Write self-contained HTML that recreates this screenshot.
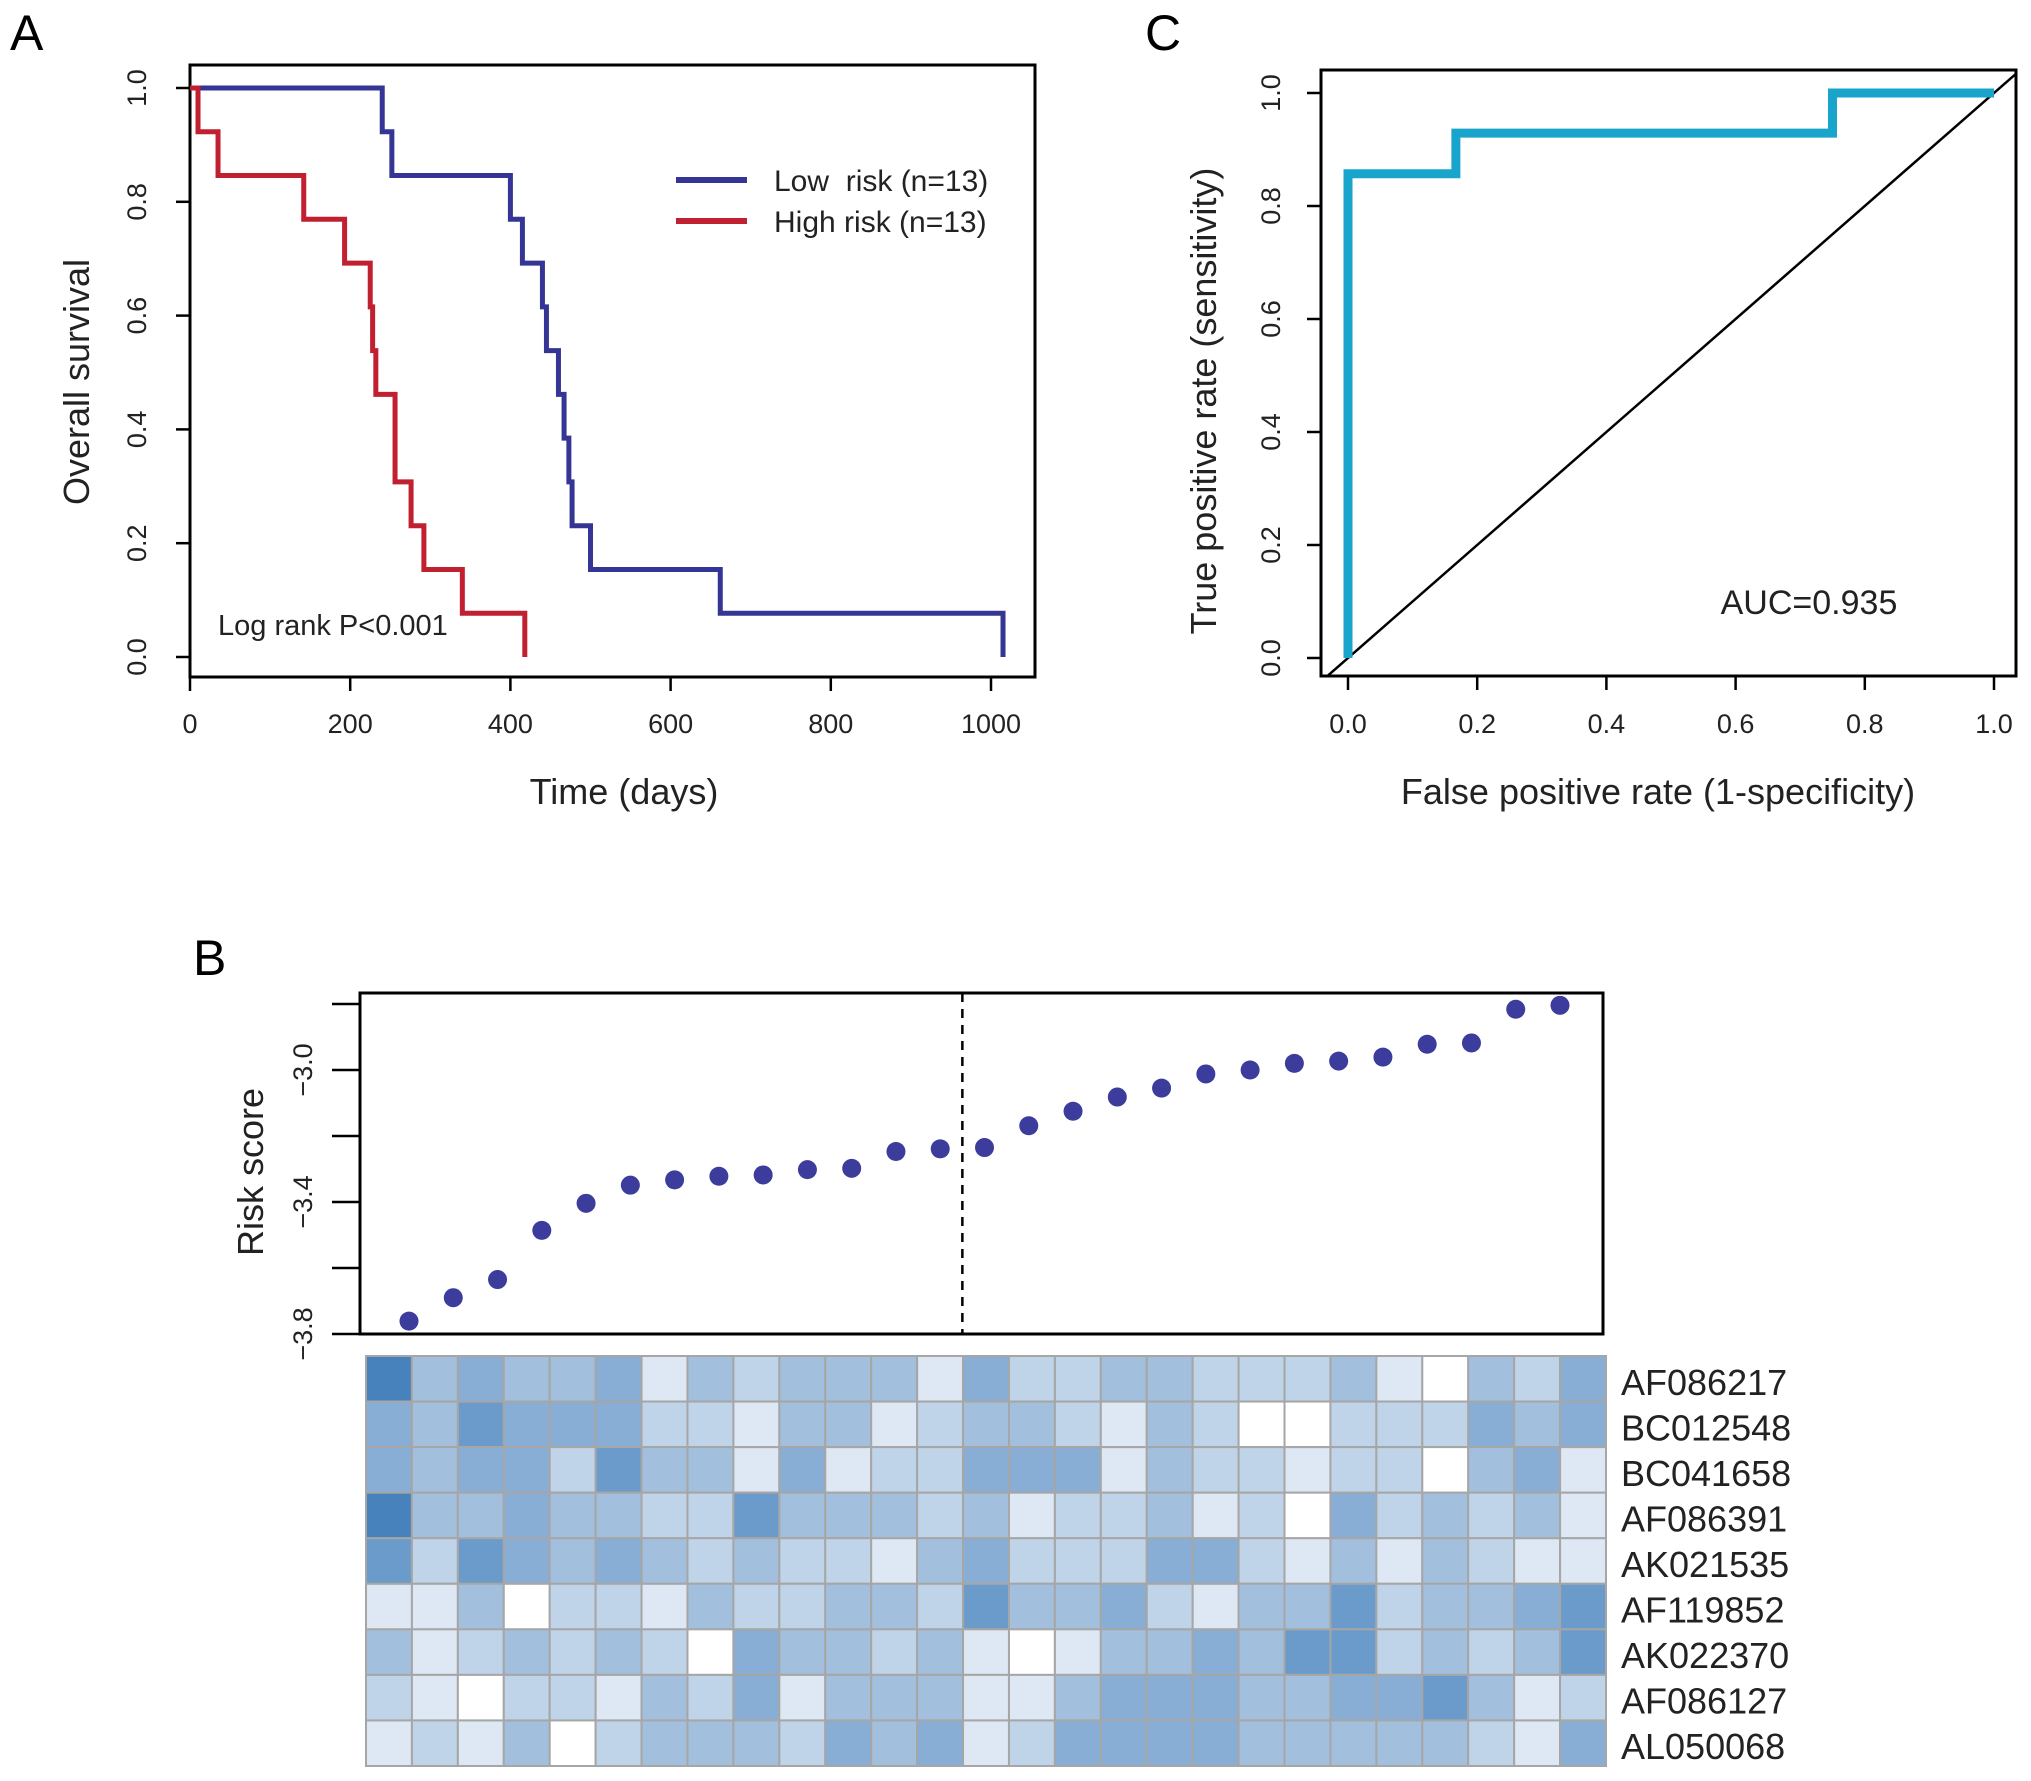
<!DOCTYPE html>
<html><head><meta charset="utf-8"><style>
html,body{margin:0;padding:0;background:#fff;}
svg{display:block;font-family:"Liberation Sans",Arial,sans-serif;}
</style></head><body>
<svg id="fig" width="2031" height="1781" viewBox="0 0 2031 1781" xmlns="http://www.w3.org/2000/svg">
<g id="A"></g>
<g id="C"></g>
<g id="B"></g>
</svg>
<script>
// ---- Panel A data ----
const lowTimes = [240,252,400,415,440,445,460,467,473,477,500,662,1015];
const highTimes = [10,35,142,193,225,228,232,256,256,276,292,340,418];
const survXTicks = [0,200,400,600,800,1000];
const survYTicks = ["0.0","0.2","0.4","0.6","0.8","1.0"];
// ---- Panel C data ----
const rocFPR = [0,0,0.167,0.167,0.75,0.75,1];
const rocTPR = [0,0.857,0.857,0.929,0.929,1,1];
const rocTicks = ["0.0","0.2","0.4","0.6","0.8","1.0"];
// ---- Panel B data ----
const riskScores = [-3.761,-3.690,-3.635,-3.486,-3.404,-3.349,-3.333,-3.322,-3.318,-3.302,-3.298,-3.247,-3.239,-3.235,-3.169,-3.125,-3.082,-3.055,-3.012,-3.0,-2.980,-2.973,-2.961,-2.922,-2.918,-2.816,-2.804];
const riskYTicks = [-3.8,-3.6,-3.4,-3.2,-3.0,-2.8];
const riskYLabels = {"-3.8":"−3.8","-3.4":"−3.4","-3.0":"−3.0"};
const cutoff = 13.5;
const geneNames = ["AF086217","BC012548","BC041658","AF086391","AK021535","AF119852","AK022370","AF086127","AL050068"];
const heatRow1 = [6,3,4,3,3,4,1,3,2,3,3,3,1,4,2,2,3,3,2,2,2,3,1,0,3,2,4];
const heatRow2 = [4,3,5,4,4,4,2,2,1,3,3,1,2,3,3,2,1,3,2,0,0,2,2,2,4,3,4];
const heatRow3 = [4,3,4,4,2,5,3,3,1,4,1,2,2,4,4,4,1,3,2,2,1,2,2,0,3,4,1];
const heatRow4 = [6,3,3,4,3,3,2,2,5,3,3,3,2,3,1,2,2,3,1,2,0,4,2,3,2,3,1];
const heatRow5 = [5,2,5,4,3,4,3,2,3,2,2,1,3,4,2,2,2,4,4,2,1,3,1,3,2,1,1];
const heatRow6 = [1,1,3,0,2,2,1,3,2,2,3,3,2,5,3,3,4,2,1,3,3,5,2,3,3,4,5];
const heatRow7 = [3,1,2,3,2,3,2,0,4,3,3,2,3,1,0,1,3,3,4,3,5,5,2,3,2,3,5];
const heatRow8 = [2,1,0,2,2,1,3,2,4,1,3,3,3,1,1,3,4,4,4,3,3,4,4,5,3,1,2];
const heatRow9 = [1,2,1,3,0,2,3,3,3,2,4,3,4,1,2,4,4,4,4,3,3,3,3,3,2,1,4];
const heatRows = [heatRow1,heatRow2,heatRow3,heatRow4,heatRow5,heatRow6,heatRow7,heatRow8,heatRow9];

const NS="http://www.w3.org/2000/svg";
function mk(parent,tag,attrs,text){const e=document.createElementNS(NS,tag);for(const k in attrs)e.setAttribute(k,attrs[k]);if(text!==undefined)e.textContent=text;parent.appendChild(e);return e;}

// ================= Panel A =================
(function(){
const g=document.getElementById('A');
const X=d=>190+d*(991-190)/1000, Y=v=>657-v*(657-88);
let t=mk(g,'text',{x:10,y:50,'font-size':50},'A');

let r=mk(g,'rect',{x:190,y:65,width:845,height:612,fill:'none',stroke:'#000','stroke-width':3});

survXTicks.forEach(v=>{
 let l=mk(g,'line',{x1:X(v),x2:X(v),y1:677,y2:691,stroke:'#000','stroke-width':2.5});
 
 let tt=mk(g,'text',{x:X(v),y:733,'font-size':27,'text-anchor':'middle',fill:'#222'},String(v));
 
});
survYTicks.forEach(s=>{
 const y=Y(parseFloat(s));
 let l=mk(g,'line',{x1:176,x2:190,y1:y,y2:y,stroke:'#000','stroke-width':2.5});
 
 let tt=mk(g,'text',{x:146,y:y,'font-size':27,'text-anchor':'middle',fill:'#222',transform:`rotate(-90 146 ${y})`},s);
 
});
t=mk(g,'text',{x:624,y:804,'font-size':36,'text-anchor':'middle',fill:'#222'},'Time (days)');

t=mk(g,'text',{x:89,y:382,'font-size':36,'text-anchor':'middle',fill:'#222',transform:'rotate(-90 89 382)'},'Overall survival');

function km(times,color,name){
 const n=times.length;let s=1,d=`M${X(0)},${Y(1)}`;
 times.forEach(tm=>{d+=` L${X(tm)},${Y(s)}`;s-=1/n;d+=` L${X(tm)},${Y(Math.max(s,0))}`;});
 let p=mk(g,'path',{d:d,fill:'none',stroke:color,'stroke-width':5});
 
}
km(lowTimes,'#343594','low-risk-curve');
km(highTimes,'#c0202f','high-risk-curve');
let l=mk(g,'line',{x1:676,x2:747,y1:180,y2:180,stroke:'#343594','stroke-width':6});

l=mk(g,'line',{x1:676,x2:747,y1:221,y2:221,stroke:'#c0202f','stroke-width':6});

t=mk(g,'text',{x:774,y:191,'font-size':30,fill:'#222',style:'white-space:pre'},'Low  risk (n=13)');

t=mk(g,'text',{x:774,y:232,'font-size':30,fill:'#222'},'High risk (n=13)');

t=mk(g,'text',{x:218,y:635,'font-size':29,fill:'#222'},'Log rank P<0.001');

})();

// ================= Panel C =================
(function(){
const g=document.getElementById('C');
const X=v=>1348+v*(1994-1348), Y=v=>658-v*(658-93);
let t=mk(g,'text',{x:1145,y:50,'font-size':50},'C');

mk(g,'clipPath',{id:'cclip'});
mk(document.getElementById('cclip'),'rect',{x:1321,y:70,width:695,height:606});
let dl=mk(g,'line',{x1:X(-1),y1:Y(-1),x2:X(2),y2:Y(2),stroke:'#000','stroke-width':2.5,'clip-path':'url(#cclip)'});

let r=mk(g,'rect',{x:1321,y:70,width:695,height:606,fill:'none',stroke:'#000','stroke-width':3});

rocTicks.forEach(s=>{
 const v=parseFloat(s);
 let l=mk(g,'line',{x1:X(v),x2:X(v),y1:676,y2:690,stroke:'#000','stroke-width':2.5});
 
 let tt=mk(g,'text',{x:X(v),y:733,'font-size':27,'text-anchor':'middle',fill:'#222'},s);
 
 const y=Y(v);
 l=mk(g,'line',{x1:1307,x2:1321,y1:y,y2:y,stroke:'#000','stroke-width':2.5});
 
 tt=mk(g,'text',{x:1280,y:y,'font-size':27,'text-anchor':'middle',fill:'#222',transform:`rotate(-90 1280 ${y})`},s);
 
});
t=mk(g,'text',{x:1658,y:804,'font-size':36,'text-anchor':'middle',fill:'#222'},'False positive rate (1-specificity)');

t=mk(g,'text',{x:1216,y:401,'font-size':36,'text-anchor':'middle',fill:'#222',transform:'rotate(-90 1216 401)'},'True positive rate (sensitivity)');

let d=rocFPR.map((f,i)=>(i?'L':'M')+X(f)+','+Y(rocTPR[i])).join(' ');
let p=mk(g,'path',{d:d,fill:'none',stroke:'#19a5cb','stroke-width':9});

t=mk(g,'text',{x:1809,y:614,'font-size':34,'text-anchor':'middle',fill:'#222'},'AUC=0.935');

})();

// ================= Panel B =================
(function(){
const g=document.getElementById('B');
const X=i=>409+(i-1)*(1560-409)/26, Y=v=>1334-(v+3.8)*(1334-1004)/1.0;
let t=mk(g,'text',{x:193,y:975,'font-size':50},'B');

let r=mk(g,'rect',{x:360,y:993,width:1243,height:341,fill:'none',stroke:'#000','stroke-width':3});

riskYTicks.forEach(v=>{
 const y=Y(v);
 let l=mk(g,'line',{x1:332,x2:360,y1:y,y2:y,stroke:'#000','stroke-width':2.5});
 
 const lab=riskYLabels[v.toFixed(1)];
 if(lab){let tt=mk(g,'text',{x:312,y:y,'font-size':27,'text-anchor':'middle',fill:'#222',transform:`rotate(-90 312 ${y})`},lab);
 }
});
t=mk(g,'text',{x:263,y:1172,'font-size':36,'text-anchor':'middle',fill:'#222',transform:'rotate(-90 263 1172)'},'Risk score');

let dl=mk(g,'line',{x1:X(cutoff),x2:X(cutoff),y1:993,y2:1334,stroke:'#000','stroke-width':2.5,'stroke-dasharray':'9,7'});

riskScores.forEach((v,i)=>{
 let c=mk(g,'circle',{cx:X(i+1),cy:Y(v),r:9.5,fill:'#3b3c9c'});
 
});
const pal=['#ffffff','#dde8f4','#c0d4e9','#a2c0de','#88aed5','#6b9bcb','#4782bc'];
const hx=366,hy=1356,cw=(1606-366)/27,ch=(1766-1356)/9;
heatRows.forEach((row,ri)=>{
 row.forEach((lv,ci)=>{
  let c=mk(g,'rect',{x:hx+ci*cw,y:hy+ri*ch,width:cw,height:ch,fill:pal[lv],stroke:'#a6a6a6','stroke-width':2});
  
 });
 let tt=mk(g,'text',{x:1621,y:hy+ri*ch+ch/2+16,'font-size':36,fill:'#222'},geneNames[ri]);
 
});
})();
</script>
</body></html>
